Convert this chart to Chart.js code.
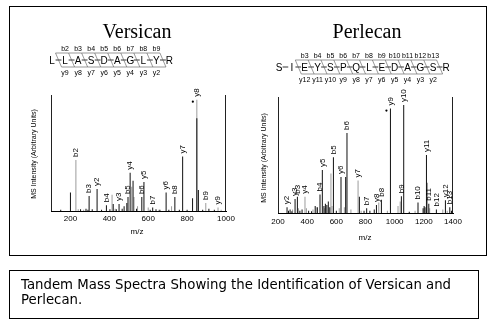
<!DOCTYPE html>
<html>
<head>
<meta charset="utf-8">
<script src="https://cdn.jsdelivr.net/npm/chart.js@4.4.1/dist/chart.umd.min.js"></script>
<style>
  body { margin: 0; background: #fff; width: 492px; height: 335px; position: relative; overflow: hidden; }
  #frame { position: absolute; left: 9px; top: 6px; width: 478px; height: 250px; border: 1px solid #000; box-sizing: border-box; }
  canvas { position: absolute; left: 0; top: 0; }
  #caption { position: absolute; left: 9px; top: 270px; width: 470px; height: 49px; border: 1px solid #000; box-sizing: border-box;
             font: 13.3px "DejaVu Sans", Verdana, sans-serif; line-height: 15px; padding: 6px 0 0 11px; color: #000; }
</style>
</head>
<body>
<div id="frame"></div>
<canvas id="versican" width="492" height="260"></canvas>
<canvas id="perlecan" width="492" height="260"></canvas>
<div id="caption">Tandem Mass Spectra Showing the Identification of Versican and<br>Perlecan.</div>

<script>
// Versican spectrum (m/z, relative intensity)
const versicanBlackMz = [150, 200, 252, 280, 290, 296, 312, 337, 360, 385, 403, 420, 436, 450, 466, 476, 490, 496, 507, 522, 540, 567, 578, 610, 623, 640, 660, 692, 706, 737, 760, 777, 800, 828, 850, 858, 880, 912, 940];
const versicanBlackInt = [1, 16, 1.5, 2, 1, 13, 1.5, 19, 1, 5, 1.5, 6, 1.5, 6, 2, 4, 7, 12, 33, 26, 2, 12, 25, 1, 3, 1.5, 1, 16, 1, 12, 1, 47, 1, 11, 80, 18, 1, 2, 1];
const versicanGrayMz = [228, 240, 268, 414, 430, 515, 527, 545, 600, 655, 720, 850, 896, 959, 975];
const versicanGrayInt = [44, 1.5, 1, 14, 2, 21, 12, 4, 3, 1, 4, 96, 7, 3, 1];
const versicanIonNames = ['b2', 'b3', 'y2', 'b4', 'y3', 'b5', 'y4', 'b6', 'y5', 'b7', 'y6', 'b8', 'y7', 'y8', 'b9', 'y9'];
const versicanIonMz = [228, 296, 337, 385, 450, 496, 507, 567, 578, 623, 692, 737, 777, 850, 896, 959];
const versicanStarMz = [850];
const versicanTicks = [200, 400, 600, 800, 1000];
const versicanSeq = ['L', 'L', 'A', 'S', 'D', 'A', 'G', 'L', 'Y', 'R'];
const versicanB = [2, 3, 4, 5, 6, 7, 8, 9];
const versicanY = [9, 8, 7, 6, 5, 4, 3, 2];

// Perlecan spectrum
const perlecanBlackMz = [262, 272, 283, 295, 317, 333, 350, 365, 410, 430, 455, 470, 488, 504, 515, 525, 535, 545, 555, 580, 600, 632, 664, 673, 758, 790, 808, 830, 860, 875, 909, 971, 1046, 1062, 1100, 1160, 1195, 1202, 1208, 1218, 1234, 1286, 1348, 1378, 1390];
const perlecanBlackInt = [5, 2, 3, 1.5, 12, 14, 2, 3, 2, 1.5, 6, 5, 16, 37, 6, 8, 7, 10, 5, 48, 2, 31, 31, 69, 14, 2, 4, 2, 3, 7, 11.5, 90, 14.5, 93, 1, 9, 4, 6, 5, 50, 8, 3, 11, 5, 2];
const perlecanGrayMz = [300, 340, 385, 395, 440, 462, 520, 563, 570, 620, 655, 700, 749, 770, 891, 950, 1023, 1038, 1140, 1225, 1240, 1330, 1360];
const perlecanGrayInt = [3, 4, 14, 4, 3, 5, 4, 34, 6, 4, 5, 3, 28, 2, 9, 2, 6, 10, 2, 26, 4, 3, 2];
const perlecanIonNames = ['y2', 'y3', 'b3', 'y4', 'b4', 'y5', 'b5', 'y6', 'b6', 'y7', 'b7', 'y8', 'b8', 'y9', 'b9', 'y10', 'b10', 'y11', 'b11', 'b12', 'y12', 'b13'];
const perlecanIonMz = [262, 317, 333, 385, 488, 504, 580, 632, 673, 749, 808, 875, 909, 971, 1046, 1062, 1160, 1218, 1234, 1286, 1348, 1378];
const perlecanStarMz = [971];
const perlecanTicks = [200, 400, 600, 800, 1000, 1200, 1400];
const perlecanSeq = ['S', 'I', 'E', 'Y', 'S', 'P', 'Q', 'L', 'E', 'D', 'A', 'G', 'S', 'R'];
const perlecanB = [3, 4, 5, 6, 7, 8, 9, 10, 11, 12, 13];
const perlecanY = [12, 11, 10, 9, 8, 7, 6, 5, 4, 3, 2];

function toPoints(mz, ints) {
    return mz.map((m, i) => ({ x: m, y: ints[i] }));
}

// draws frame, ion labels, title, peptide sequence and axis titles
const spectrumDecor = {
    id: 'spectrumDecor',
    afterDatasetsDraw(chart, args, o) {
        const ctx = chart.ctx;
        const area = chart.chartArea;
        const xs = chart.scales.x, ys = chart.scales.y;
        ctx.save();

        // side lines of the plot box
        ctx.strokeStyle = '#222';
        ctx.lineWidth = 1;
        ctx.beginPath();
        ctx.moveTo(Math.round(area.left) + 0.5, area.top);
        ctx.lineTo(Math.round(area.left) + 0.5, area.bottom);
        ctx.moveTo(Math.round(area.right) - 0.5, area.top);
        ctx.lineTo(Math.round(area.right) - 0.5, area.bottom);
        ctx.stroke();

        // peak height lookup
        const heightAt = (m) => {
            let h = 0;
            chart.data.datasets.forEach(ds => ds.data.forEach(p => { if (p.x === m && p.y > h) h = p.y; }));
            return h;
        };

        // ion labels above the peaks
        ctx.fillStyle = '#000';
        ctx.font = '8px "Liberation Sans", Arial, sans-serif';
        ctx.textAlign = 'left';
        ctx.textBaseline = 'middle';
        o.ionNames.forEach((name, i) => {
            const px = xs.getPixelForValue(o.ionMz[i]);
            const py = ys.getPixelForValue(heightAt(o.ionMz[i]));
            ctx.save();
            ctx.translate(px, py - 3);
            ctx.rotate(-Math.PI / 2);
            ctx.fillText(name, 0, 0);
            ctx.restore();
        });

        // marker dots
        o.starMz.forEach(m => {
            const px = xs.getPixelForValue(m);
            const py = ys.getPixelForValue(heightAt(m));
            ctx.beginPath();
            ctx.arc(px - 4, py + 2, 1.1, 0, Math.PI * 2);
            ctx.fill();
        });

        // title
        ctx.font = '20px "Liberation Serif", "Times New Roman", serif';
        ctx.textAlign = 'center';
        ctx.textBaseline = 'alphabetic';
        ctx.fillText(o.title, o.titleX, 38);

        // peptide sequence with fragment brackets
        const seq = o.seq, n = seq.length, step = o.seqStep, x0 = o.seqX, sy = o.seqY;
        const cx = i => x0 + i * step;          // residue centre, 0-based
        const mid = k => cx(k - 1) + step / 2;  // cleavage after residue k (1-based)
        const s = 3, yT = sy - 7, yB = sy + 7;
        ctx.font = '10px "Liberation Sans", Arial, sans-serif';
        seq.forEach((r, i) => ctx.fillText(r, cx(i), sy + 3.6));
        ctx.strokeStyle = '#000';
        ctx.lineWidth = 0.8;
        ctx.beginPath();
        for (let i = 0; i < n - 1; i++) {
            ctx.moveTo(cx(i) + 3.6, sy);
            ctx.lineTo(cx(i + 1) - 3.6, sy);
        }
        ctx.stroke();
        ctx.strokeStyle = '#555';
        ctx.lineWidth = 0.6;
        ctx.beginPath();
        const cuts = new Set();
        o.bIons.forEach(k => cuts.add(k));
        o.yIons.forEach(m => cuts.add(n - m));
        cuts.forEach(k => { ctx.moveTo(mid(k) - s, yT); ctx.lineTo(mid(k) + s, yB); });
        o.bIons.forEach(k => { ctx.moveTo(mid(k - 1) - s, yT); ctx.lineTo(mid(k) - s, yT); });
        o.yIons.forEach(m => { const k = n - m; ctx.moveTo(mid(k) + s, yB); ctx.lineTo(mid(k + 1) + s, yB); });
        ctx.stroke();
        ctx.font = '7px "Liberation Sans", Arial, sans-serif';
        o.bIons.forEach(k => ctx.fillText('b' + k, cx(k - 1), yT - 2.5));
        o.yIons.forEach(m => ctx.fillText('y' + m, cx(n - m), yB + 8));

        // axis titles
        ctx.font = '8px "Liberation Sans", Arial, sans-serif';
        ctx.textBaseline = 'middle';
        ctx.fillText('m/z', o.mzX, o.mzY);
        ctx.save();
        ctx.translate(o.yTitleX, o.yTitleY);
        ctx.rotate(-Math.PI / 2);
        ctx.font = '7px "Liberation Sans", Arial, sans-serif';
        ctx.fillText('MS Intensity (Arbitrary Units)', 0, 0);
        ctx.restore();

        ctx.restore();
    }
};

function makeSpectrum(id, cfg) {
    new Chart(document.getElementById(id), {
        type: 'bar',
        data: {
            datasets: [
                { data: toPoints(cfg.blackMz, cfg.blackInt), backgroundColor: '#111', barThickness: 1, inflateAmount: 0, grouped: false },
                { data: toPoints(cfg.grayMz, cfg.grayInt), backgroundColor: '#9c9c9c', barThickness: 1, inflateAmount: 0, grouped: false }
            ]
        },
        options: {
            responsive: false,
            animation: false,
            events: [],
            layout: { padding: cfg.padding },
            plugins: { legend: { display: false }, tooltip: { enabled: false }, spectrumDecor: cfg.decor },
            scales: {
                x: {
                    type: 'linear',
                    min: cfg.min, max: cfg.max,
                    offset: false,
                    grid: { display: false, drawTicks: false },
                    border: { display: true, color: '#000', width: 1 },
                    ticks: {
                        color: '#000', font: { size: 8, family: '"Liberation Sans", Arial, sans-serif' },
                        padding: cfg.tickPad, autoSkip: false, maxRotation: 0,
                        callback: v => String(v)
                    },
                    afterBuildTicks: sc => { sc.ticks = cfg.ticks.map(v => ({ value: v })); },
                    afterFit: sc => { sc.height = cfg.axisHeight; }
                },
                y: { display: false, min: 0, max: 100 }
            }
        },
        plugins: [spectrumDecor]
    });
}

makeSpectrum('versican', {
    blackMz: versicanBlackMz, blackInt: versicanBlackInt, grayMz: versicanGrayMz, grayInt: versicanGrayInt,
    min: 100, max: 1000, ticks: versicanTicks, tickPad: 3, axisHeight: 49,
    padding: { left: 51, right: 266, top: 95, bottom: 0 },
    decor: {
        ionNames: versicanIonNames, ionMz: versicanIonMz, starMz: versicanStarMz,
        title: 'Versican', titleX: 137,
        seq: versicanSeq, bIons: versicanB, yIons: versicanY, seqX: 52, seqStep: 13.05, seqY: 60,
        mzX: 137, mzY: 232, yTitleX: 34, yTitleY: 154
    }
});

makeSpectrum('perlecan', {
    blackMz: perlecanBlackMz, blackInt: perlecanBlackInt, grayMz: perlecanGrayMz, grayInt: perlecanGrayInt,
    min: 200, max: 1400, ticks: perlecanTicks, tickPad: 4, axisHeight: 47,
    padding: { left: 278, right: 39, top: 97, bottom: 0 },
    decor: {
        ionNames: perlecanIonNames, ionMz: perlecanIonMz, starMz: perlecanStarMz,
        title: 'Perlecan', titleX: 367,
        seq: perlecanSeq, bIons: perlecanB, yIons: perlecanY, seqX: 279, seqStep: 12.85, seqY: 67,
        mzX: 365, mzY: 238, yTitleX: 264, yTitleY: 158
    }
});
</script>
</body>
</html>
